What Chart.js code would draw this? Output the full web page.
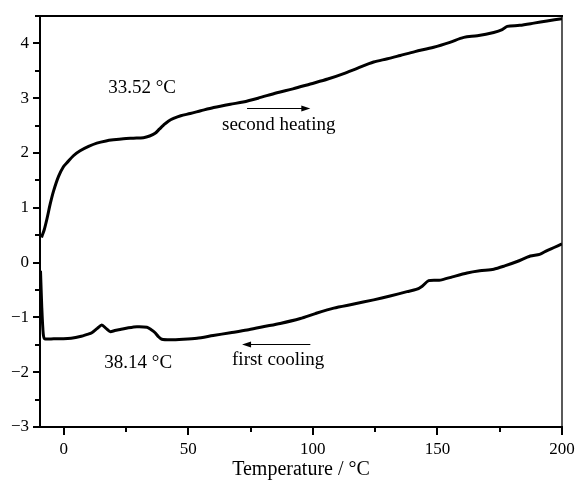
<!DOCTYPE html>
<html>
<head>
<meta charset="utf-8">
<script src="https://cdn.jsdelivr.net/npm/chart.js@4/dist/chart.umd.min.js"></script>
<style>
  html, body { margin: 0; padding: 0; background: #ffffff; }
  #wrap { width: 578px; height: 482px; }
</style>
</head>
<body>
<div id="wrap"><canvas id="dsc" width="578" height="482"></canvas></div>
<script>
// DSC traces: temperature (°C) against heat flow signal
const heatingT = [-8.9, -7.8, -6.7, -5.4, -4.1, -2.1, -0.1, 1.3, 3.9, 6.6, 10, 13.3, 17, 20, 24, 28, 32, 34.5, 36.7, 38.5, 40.1, 42, 44.1, 47, 50.8, 55, 60.2, 66.9, 72, 78, 85.6, 92, 99, 106, 112.4, 118, 124.4, 130, 135.1, 141, 148.5, 155, 160.6, 166, 172.6, 176, 178, 183, 188.7, 194, 200];
const heatingQ = [0.46, 0.6, 0.8, 1.07, 1.3, 1.57, 1.75, 1.82, 1.95, 2.04, 2.12, 2.18, 2.22, 2.24, 2.26, 2.27, 2.28, 2.31, 2.36, 2.44, 2.51, 2.58, 2.63, 2.68, 2.72, 2.77, 2.83, 2.89, 2.93, 3.0, 3.1, 3.17, 3.26, 3.35, 3.45, 3.55, 3.66, 3.72, 3.78, 3.85, 3.93, 4.02, 4.11, 4.14, 4.2, 4.25, 4.31, 4.33, 4.37, 4.41, 4.45];

const coolingT = [-9.3, -8.8, -8.2, -7.6, -4, -0.1, 3, 6.6, 9.5, 11.3, 13.5, 15.3, 17, 18.7, 20.5, 22.7, 26, 29.4, 33.4, 35, 36.7, 38, 39.4, 42.8, 48, 53.5, 60, 66.9, 73.6, 80, 86.9, 95, 101, 108.4, 116, 124.4, 131, 137.8, 141.5, 143.9, 146.5, 151.2, 156, 161.9, 167, 172.6, 177, 182, 187.3, 191, 194, 200];
const coolingQ = [-0.15, -0.8, -1.3, -1.39, -1.39, -1.39, -1.38, -1.35, -1.31, -1.28, -1.2, -1.14, -1.2, -1.26, -1.24, -1.22, -1.19, -1.17, -1.18, -1.22, -1.28, -1.35, -1.4, -1.41, -1.4, -1.38, -1.33, -1.28, -1.23, -1.17, -1.11, -1.02, -0.93, -0.83, -0.76, -0.68, -0.61, -0.53, -0.49, -0.43, -0.33, -0.32, -0.26, -0.19, -0.15, -0.12, -0.06, 0.02, 0.12, 0.15, 0.22, 0.34];

// axis ticks
const tempTicks = [0, 50, 100, 150, 200];
const tempMinorTicks = [25, 75, 125, 175];
const signalTicks = [-3, -2, -1, 0, 1, 2, 3, 4];
const signalMinorTicks = [-2.5, -1.5, -0.5, 0.5, 1.5, 2.5, 3.5, 4.5];

// text notes and direction arrows (data units)
const noteText = ['33.52 °C', 'second heating', 'first cooling', '38.14 °C'];
const noteT = [31.5, 86.3, 86.1, 29.9];
const noteQ = [3.19, 2.51, -1.78, -1.83];
const arrowFromT = [73.6, 99];
const arrowToT = [99, 71.6];
const arrowQ = [2.82, -1.49];

const SERIF = '"Liberation Serif", "Times New Roman", serif';
Chart.defaults.font.family = SERIF;
Chart.defaults.color = '#000';

const pairs = (xs, ys) => xs.map((x, i) => ({ x: x, y: ys[i] }));

const framePlugin = {
  id: 'frame',
  afterDraw(chart) {
    const ctx = chart.ctx;
    const a = chart.chartArea;
    const xs = chart.scales.x, ys = chart.scales.y;
    ctx.save();
    ctx.strokeStyle = '#000';
    ctx.lineCap = 'square';
    // frame
    ctx.lineWidth = 2;
    ctx.beginPath();
    ctx.moveTo(a.left, a.top); ctx.lineTo(a.left, a.bottom);
    ctx.moveTo(a.left, a.bottom); ctx.lineTo(a.right, a.bottom);
    ctx.moveTo(a.left, a.top); ctx.lineTo(a.right, a.top);
    ctx.stroke();
    ctx.lineWidth = 1.3;
    ctx.beginPath();
    ctx.moveTo(a.right, a.top); ctx.lineTo(a.right, a.bottom);
    ctx.stroke();
    // tick marks, pointing outward
    ctx.lineCap = 'butt';
    ctx.lineWidth = 2;
    ctx.beginPath();
    tempTicks.forEach(v => { const p = Math.round(xs.getPixelForValue(v)); ctx.moveTo(p, a.bottom); ctx.lineTo(p, a.bottom + 8); });
    tempMinorTicks.forEach(v => { const p = Math.round(xs.getPixelForValue(v)); ctx.moveTo(p, a.bottom); ctx.lineTo(p, a.bottom + 5); });
    signalTicks.forEach(v => { const p = Math.round(ys.getPixelForValue(v)); ctx.moveTo(a.left, p); ctx.lineTo(a.left - 7, p); });
    signalMinorTicks.forEach(v => { const p = Math.round(ys.getPixelForValue(v)); ctx.moveTo(a.left, p); ctx.lineTo(a.left - 5, p); });
    ctx.stroke();
    // notes
    ctx.fillStyle = '#000';
    ctx.font = '19px ' + SERIF;
    ctx.textAlign = 'center';
    ctx.textBaseline = 'middle';
    noteText.forEach((t, i) => {
      ctx.fillText(t, xs.getPixelForValue(noteT[i]), ys.getPixelForValue(noteQ[i]));
    });
    // arrows
    arrowQ.forEach((q, i) => {
      const x0 = xs.getPixelForValue(arrowFromT[i]);
      const x1 = xs.getPixelForValue(arrowToT[i]);
      const y = Math.round(ys.getPixelForValue(q)) + 0.5;
      const dir = Math.sign(x1 - x0);
      ctx.lineWidth = 1;
      ctx.beginPath();
      ctx.moveTo(x0, y); ctx.lineTo(x1 - dir * 6, y);
      ctx.stroke();
      ctx.beginPath();
      ctx.moveTo(x1, y);
      ctx.lineTo(x1 - dir * 9, y - 3);
      ctx.lineTo(x1 - dir * 9, y + 3);
      ctx.closePath();
      ctx.fill();
    });
    ctx.restore();
  }
};

const minus = v => (v < 0 ? '\u2212' + Math.abs(v) : String(v));

new Chart(document.getElementById('dsc'), {
  type: 'line',
  data: {
    datasets: [
      { label: 'second heating', data: pairs(heatingT, heatingQ), borderColor: '#000', borderWidth: 3, pointRadius: 0, tension: 0.3, fill: false },
      { label: 'first cooling', data: pairs(coolingT, coolingQ), borderColor: '#000', borderWidth: 3, pointRadius: 0, tension: 0.25, fill: false }
    ]
  },
  options: {
    responsive: false,
    animation: false,
    events: [],
    layout: { padding: { top: 16, right: 16, left: 0, bottom: 0 } },
    plugins: { legend: { display: false }, tooltip: { enabled: false } },
    scales: {
      x: {
        type: 'linear',
        min: -9.5,
        max: 200,
        afterBuildTicks: s => { s.ticks = tempTicks.map(v => ({ value: v })); },
        afterFit: s => { s.height = 55; s.paddingLeft = 0; s.paddingRight = 0; },
        grid: { display: false, drawTicks: false },
        border: { display: false },
        ticks: { padding: 12, maxRotation: 0, autoSkip: false, font: { size: 17 }, color: '#000', callback: minus },
        title: { display: true, text: 'Temperature / °C', font: { size: 20 }, color: '#000', padding: { top: 0, bottom: 0 } }
      },
      y: {
        type: 'linear',
        min: -3,
        max: 4.5,
        afterBuildTicks: s => { s.ticks = signalTicks.map(v => ({ value: v })); },
        afterFit: s => { s.width = 40; s.paddingTop = 0; s.paddingBottom = 0; },
        grid: { display: false, drawTicks: false },
        border: { display: false },
        ticks: { padding: 11, autoSkip: false, font: { size: 17 }, color: '#000', callback: minus }
      }
    }
  },
  plugins: [framePlugin]
});
</script>
</body>
</html>
